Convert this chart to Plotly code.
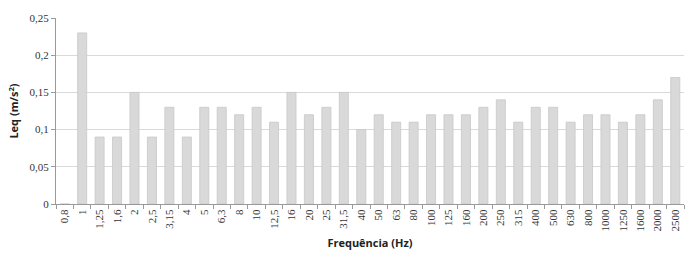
import plotly.graph_objects as go

categories = ["0,8", "1", "1,25", "1,6", "2", "2,5", "3,15", "4", "5", "6,3", "8", "10",
              "12,5", "16", "20", "25", "31,5", "40", "50", "63", "80", "100", "125", "160",
              "200", "250", "315", "400", "500", "630", "800", "1000", "1250", "1600", "2000", "2500"]
values = [0, 0.23, 0.09, 0.09, 0.15, 0.09, 0.13, 0.09, 0.13, 0.13, 0.12, 0.13,
          0.11, 0.15, 0.12, 0.13, 0.15, 0.10, 0.12, 0.11, 0.11, 0.12, 0.12, 0.12,
          0.13, 0.14, 0.11, 0.13, 0.13, 0.11, 0.12, 0.12, 0.11, 0.12, 0.14, 0.17]
y_ticks = [0, 0.05, 0.1, 0.15, 0.2, 0.25]

fig = go.Figure(go.Bar(
    x=categories, y=values,
    marker=dict(color="#d9d9d9", line=dict(color="#c8c8c8", width=0.8)),
))

fig.update_layout(
    width=699, height=261,
    margin=dict(l=56, r=15, t=16, b=57),
    plot_bgcolor="white", paper_bgcolor="white",
    separators=",.",
    bargap=0.48,
    showlegend=False,
    font=dict(family="Liberation Serif", size=11, color="#333333"),
)
fig.update_xaxes(
    type="category", tickangle=-90, tickson="boundaries",
    ticks="outside", ticklen=4, tickcolor="#9a9a9a",
    showline=True, linecolor="#9a9a9a", linewidth=1,
    showgrid=False,
    tickfont=dict(family="Liberation Serif", size=11, color="#333333"),
    title=dict(text="Frequência (Hz)", standoff=8,
               font=dict(family="Open Sans", size=11, color="#222222", weight="bold")),
)
fig.update_yaxes(
    range=[0, 0.25], tickvals=y_ticks, tickformat=",.2~f",
    ticks="outside", ticklen=4, tickcolor="#9a9a9a",
    showline=True, linecolor="#9a9a9a", linewidth=1,
    showgrid=True, gridcolor="#d9d9d9", gridwidth=1,
    zeroline=False,
    tickfont=dict(family="Liberation Serif", size=11, color="#333333"),
    title=dict(text="Leq (m/s<sup>2</sup>)", standoff=8,
               font=dict(family="Open Sans", size=11, color="#222222", weight="bold")),
)

fig.write_html("out.html")
